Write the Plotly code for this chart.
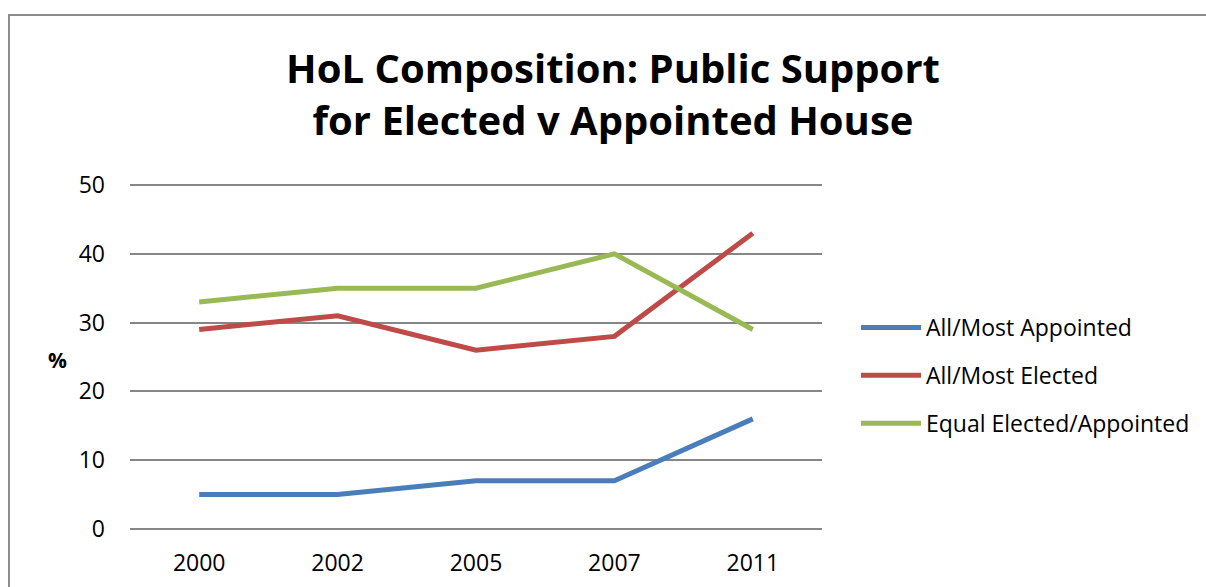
import plotly.graph_objects as go

years = ["2000", "2002", "2005", "2007", "2011"]
appointed = [5, 5, 7, 7, 16]
elected = [29, 31, 26, 28, 43]
equal = [33, 35, 35, 40, 29]
series_names = ["All/Most Appointed", "All/Most Elected", "Equal Elected/Appointed"]
colors = ["#4A7EBB", "#BE4B48", "#98B954"]
y_ticks = [0, 10, 20, 30, 40, 50]

W, H = 1206, 587
L, R, T, B = 130, 822, 183, 531

fig = go.Figure()
for i, (name, vals) in enumerate(zip(series_names, [appointed, elected, equal])):
    fig.add_trace(go.Scatter(x=years, y=vals, mode="lines", name=name,
                             legendgroup=str(i),
                             line=dict(color=colors[i], width=5)))

font_family = "Open Sans, Liberation Sans, sans-serif"

def px_x(p):
    return (p - L) / (R - L)

def px_y(p):
    return (B - p) / (B - T)

fig.update_layout(
    width=W, height=H,
    margin=dict(l=L, r=W - R, t=T, b=H - B, autoexpand=False),
    paper_bgcolor="white", plot_bgcolor="white",
    font=dict(family=font_family, size=23, color="black"),
    title=dict(text="<b>HoL Composition: Public Support<br>for Elected v Appointed House</b>",
               x=613 / W, xanchor="center", y=1 - 83 / H, yanchor="middle",
               font=dict(size=40, family=font_family, color="black")),
    xaxis=dict(type="category", range=[-0.5, 4.5], showgrid=False, showline=False,
               ticks="", tickfont=dict(size=23), zeroline=False, ticklabelstandoff=16,
               automargin=False),
    yaxis=dict(range=[-0.3, 50.3], tickvals=y_ticks, showgrid=True, gridcolor="#868686",
               gridwidth=1.5, zeroline=True, zerolinecolor="#868686", zerolinewidth=1.5,
               showline=False, ticks="", tickfont=dict(size=23), ticklabelstandoff=24,
               automargin=False),
    legend=dict(x=px_x(856), xanchor="left", y=px_y(306), yanchor="top",
                font=dict(size=23), tracegroupgap=15, itemwidth=60,
                bgcolor="rgba(0,0,0,0)"),
    shapes=[dict(type="rect", xref="paper", yref="paper",
                 x0=px_x(9), x1=px_x(1300), y0=px_y(700), y1=px_y(15),
                 line=dict(color="#8C8C8C", width=2), layer="below")],
    annotations=[dict(text="<b>%</b>", xref="paper", yref="paper",
                      x=px_x(57), y=px_y(360), showarrow=False,
                      font=dict(size=21), xanchor="center", yanchor="middle")],
)

fig.write_html("out.html", config={"displayModeBar": False},
               post_script="document.body.style.margin='0';")
